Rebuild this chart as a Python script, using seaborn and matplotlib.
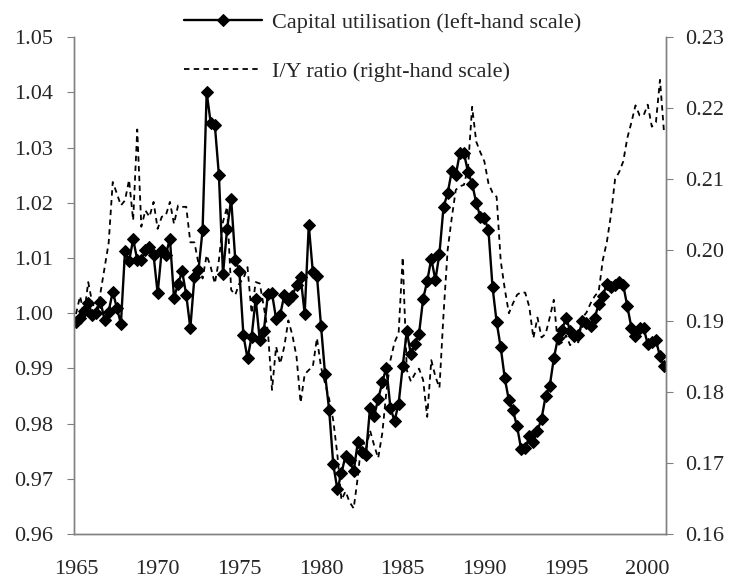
import numpy as np
import pandas as pd
import seaborn as sns
import matplotlib.pyplot as plt
from matplotlib.ticker import FormatStrFormatter

# quarterly data, 1965Q1 onwards
cap_util = [
    0.9984, 0.9992, 1.0004, 1.0019, 0.9997, 1.0001, 1.0021, 0.9988, 1.0003, 1.0039, 1.0010, 0.9981,
    1.0112, 1.0094, 1.0134, 1.0097, 1.0097, 1.0114, 1.0120, 1.0105, 1.0036, 1.0114, 1.0106, 1.0135,
    1.0028, 1.0053, 1.0076, 1.0033, 0.9973, 1.0065, 1.0078, 1.0151, 1.0400, 1.0344, 1.0341, 1.0250,
    1.0071, 1.0152, 1.0207, 1.0097, 1.0077, 0.9960, 0.9918, 0.9957, 1.0026, 0.9951, 0.9968, 1.0035,
    1.0036, 0.9990, 0.9997, 1.0033, 1.0024, 1.0032, 1.0051, 1.0066, 0.9999, 1.0160, 1.0074, 1.0068,
    0.9977, 0.9889, 0.9824, 0.9726, 0.9681, 0.9710, 0.9742, 0.9734, 0.9714, 0.9766, 0.9749, 0.9744,
    0.9828, 0.9814, 0.9844, 0.9875, 0.9901, 0.9828, 0.9805, 0.9836, 0.9904, 0.9967, 0.9926, 0.9944,
    0.9963, 1.0026, 1.0058, 1.0099, 1.0060, 1.0108, 1.0193, 1.0217, 1.0257, 1.0250, 1.0291, 1.0290,
    1.0255, 1.0235, 1.0200, 1.0175, 1.0173, 1.0150, 1.0047, 0.9984, 0.9938, 0.9882, 0.9842, 0.9824,
    0.9795, 0.9754, 0.9755, 0.9777, 0.9766, 0.9787, 0.9809, 0.9850, 0.9868, 0.9918, 0.9955, 0.9969,
    0.9992, 0.9968, 0.9959, 0.9960, 0.9985, 0.9983, 0.9977, 0.9991, 1.0017, 1.0032, 1.0053, 1.0048,
    1.0051, 1.0056, 1.0051, 1.0013, 0.9974, 0.9959, 0.9974, 0.9973, 0.9944, 0.9948, 0.9951, 0.9922,
    0.9904,
]

iy_ratio = [
    0.1910, 0.1935, 0.1910, 0.1955, 0.1925, 0.1915, 0.1940, 0.1975,
    0.2010, 0.2096, 0.2080, 0.2063, 0.2070, 0.2099, 0.2042, 0.2170,
    0.2033, 0.2056, 0.2047, 0.2068, 0.2030, 0.2047, 0.2049, 0.2068,
    0.2037, 0.2063, 0.2061, 0.2061, 0.2011, 0.2011, 0.1981, 0.1960,
    0.1993, 0.1976, 0.1953, 0.1986, 0.2040, 0.2061, 0.1944, 0.1937,
    0.1953, 0.1960, 0.1976, 0.1911, 0.1955, 0.1953, 0.1920, 0.1885,
    0.1803, 0.1864, 0.1840, 0.1864, 0.1901, 0.1880, 0.1850, 0.1785,
    0.1825, 0.1831, 0.1836, 0.1876, 0.1835, 0.1812, 0.1790, 0.1760,
    0.1712, 0.1648, 0.1660, 0.1645, 0.1636, 0.1680, 0.1735, 0.1720,
    0.1746, 0.1725, 0.1707, 0.1742, 0.1800, 0.1845, 0.1870, 0.1883,
    0.1990, 0.1831, 0.1815, 0.1826, 0.1833, 0.1817, 0.1765, 0.1845,
    0.1822, 0.1806, 0.1910, 0.2000, 0.2045, 0.2085, 0.2090, 0.2092,
    0.2117, 0.2202, 0.2153, 0.2138, 0.2125, 0.2094, 0.2081, 0.2075,
    0.1985, 0.1945, 0.1911, 0.1925, 0.1937, 0.1941, 0.1940, 0.1920,
    0.1876, 0.1905, 0.1877, 0.1882, 0.1905, 0.1930, 0.1866, 0.1870,
    0.1880, 0.1866, 0.1878, 0.1870, 0.1905, 0.1912, 0.1925, 0.1935,
    0.1942, 0.1986, 0.2012, 0.2050, 0.2100, 0.2110, 0.2125, 0.2158,
    0.2180, 0.2204, 0.2190, 0.2190, 0.2205, 0.2174, 0.2180, 0.2240,
    0.2165,
]

year_labels = ["1965", "1970", "1975", "1980", "1985", "1990", "1995", "2000"]

n = len(cap_util)
df = pd.DataFrame({"q": np.arange(n), "cap": cap_util, "iy": iy_ratio})

sns.set_style("white")
plt.rcParams["font.family"] = ["Liberation Serif", "DejaVu Serif"]
plt.rcParams["font.size"] = 16

grey = "#808080"

fig, ax = plt.subplots(figsize=(7.32, 5.82), dpi=100)
fig.subplots_adjust(left=0.101, right=0.910, bottom=0.0825, top=0.936)
ax2 = ax.twinx()

sns.lineplot(data=df, x="q", y="cap", ax=ax, color="black", linewidth=1.7,
             marker="D", markersize=6.3, markeredgecolor="black", legend=False)
sns.lineplot(data=df, x="q", y="iy", ax=ax2, color="black", linewidth=1.3,
             legend=False)
ax2.lines[0].set_linestyle((0, (3, 2.4)))

ax.set_xlim(-0.5, n - 0.5)
ax.set_ylim(0.96, 1.05)
ax2.set_ylim(0.16, 0.23)
ax.set_yticks(np.arange(0.96, 1.0501, 0.01))
ax2.set_yticks(np.arange(0.16, 0.2301, 0.01))
ax.yaxis.set_major_formatter(FormatStrFormatter("%.2f"))
ax2.yaxis.set_major_formatter(FormatStrFormatter("%.2f"))

ax.set_xticks(np.arange(0, 20 * len(year_labels), 20))
ax.set_xticklabels(year_labels)
ax.set_xticks(np.arange(-0.5, n - 0.5, 4), minor=True)
ax.tick_params(axis="x", which="major", length=0, pad=19, labelsize=16)
ax.tick_params(axis="x", which="minor", length=4, color=grey, direction="out")
ax.tick_params(axis="y", length=5, color=grey, pad=10, labelsize=16, left=True)
ax2.tick_params(axis="y", length=5, color=grey, pad=9, labelsize=16, right=True)

ax.set_xlabel("")
ax.set_ylabel("")
ax2.set_ylabel("")

for a in (ax, ax2):
    a.spines["top"].set_visible(False)
    for s in ("left", "right", "bottom"):
        a.spines[s].set_color(grey)
        a.spines[s].set_linewidth(1.0)

h1 = ax.lines[0]
h2 = ax2.lines[0]
h1.set_label("Capital utilisation (left-hand scale)")
h2.set_label("I/Y ratio (right-hand scale)")
fig.legend(handles=[h1, h2], loc="upper left", bbox_to_anchor=(0.236, 0.998),
           frameon=False, borderpad=0, handlelength=3.5, handletextpad=0.45,
           labelspacing=1.3, numpoints=1, fontsize=16)

fig.savefig("out.png", dpi=100)
